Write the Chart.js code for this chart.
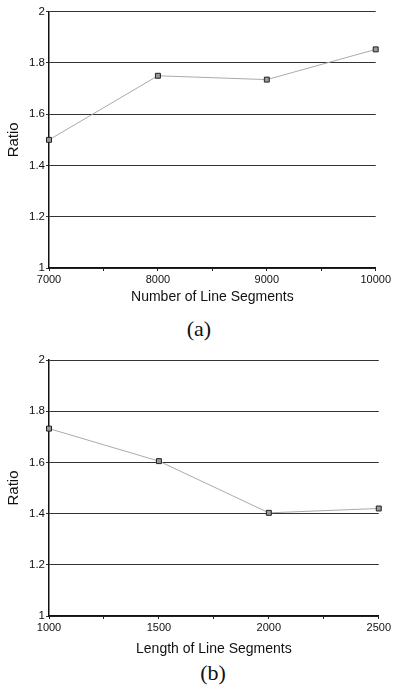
<!DOCTYPE html>
<html>
<head>
<meta charset="utf-8">
<script src="https://cdn.jsdelivr.net/npm/chart.js@4"></script>
<style>
  html, body { margin: 0; padding: 0; background: #fff; }
  body { width: 393px; height: 696px; position: relative; overflow: hidden; }
  canvas { position: absolute; left: 0; }
  .cap { position: absolute; font-family: "Liberation Serif", "DejaVu Serif", serif; font-size: 22px; line-height: 22px; text-align: center; width: 100px; color: #111; }
</style>
</head>
<body>
<canvas id="cA" width="393" height="306" style="top:0px"></canvas>
<div class="cap" style="left:149px; top:318px;">(a)</div>
<canvas id="cB" width="393" height="318" style="top:340px"></canvas>
<div class="cap" style="left:163px; top:662px;">(b)</div>
<script>
// Chart (a)
const segCounts = [7000, 8000, 9000, 10000];
const ratioA = [1.50, 1.75, 1.735, 1.853];
// Chart (b)
const segLengths = [1000, 1500, 2000, 2500];
const ratioB = [1.732, 1.605, 1.403, 1.42];
const yTicks = [1, 1.2, 1.4, 1.6, 1.8, 2];
const yTickLabels = ['1', '1.2', '1.4', '1.6', '1.8', '2'];

function makeChart(id, xs, ys, xMin, xMax, xStep, xLabelStep, xTitle, padTop, padRight, xAxisH) {
  const pts = xs.map((x, i) => ({ x: x, y: ys[i] }));
  return new Chart(document.getElementById(id), {
    type: 'line',
    data: {
      datasets: [{
        data: pts,
        borderColor: '#aaaaaa',
        borderWidth: 1,
        pointStyle: 'rect',
        pointRadius: 3.5,
        pointBackgroundColor: '#999999',
        pointBorderColor: '#222222',
        pointBorderWidth: 1,
        tension: 0,
        clip: false
      }]
    },
    options: {
      responsive: false,
      animation: false,
      devicePixelRatio: 1,
      layout: { padding: { top: padTop, right: padRight, left: 0, bottom: 0 } },
      plugins: { legend: { display: false }, tooltip: { enabled: false } },
      scales: {
        x: {
          type: 'linear',
          min: xMin, max: xMax,
          afterFit: s => { s.height = xAxisH; },
          ticks: {
            stepSize: xStep,
            autoSkip: false,
            maxRotation: 0,
            padding: 2,
            color: '#111',
            font: { family: 'Liberation Sans, Arial, sans-serif', size: 11 },
            callback: v => (v % xLabelStep === 0 ? String(v) : '')
          },
          grid: { drawOnChartArea: false, drawTicks: true, tickLength: 3, color: '#222' },
          border: { color: '#111', width: 1.5 },
          title: {
            display: true, text: xTitle, color: '#111',
            padding: { top: 0, bottom: 0 },
            font: { family: 'Liberation Sans, Arial, sans-serif', size: 14 }
          }
        },
        y: {
          min: 1, max: 2,
          afterFit: s => { s.width = 49; },
          afterBuildTicks: s => { s.ticks = yTicks.map(v => ({ value: v })); },
          ticks: {
            padding: 1,
            color: '#111',
            font: { family: 'Liberation Sans, Arial, sans-serif', size: 11.5 },
            callback: (v, i) => yTickLabels[i]
          },
          grid: { color: '#333', lineWidth: 1, tickLength: 3 },
          border: { color: '#111', width: 1.5 },
          title: {
            display: true, text: 'Ratio', color: '#111',
            padding: { top: 5, bottom: 0 },
            font: { family: 'Liberation Sans, Arial, sans-serif', size: 15 }
          }
        }
      }
    }
  });
}

makeChart('cA', segCounts, ratioA, 7000, 10000, 500, 1000, 'Number of Line Segments', 11.7, 15.3, 38);
makeChart('cB', segLengths, ratioB, 1000, 2500, 250, 500, 'Length of Line Segments', 20, 12.3, 42);
</script>
</body>
</html>
